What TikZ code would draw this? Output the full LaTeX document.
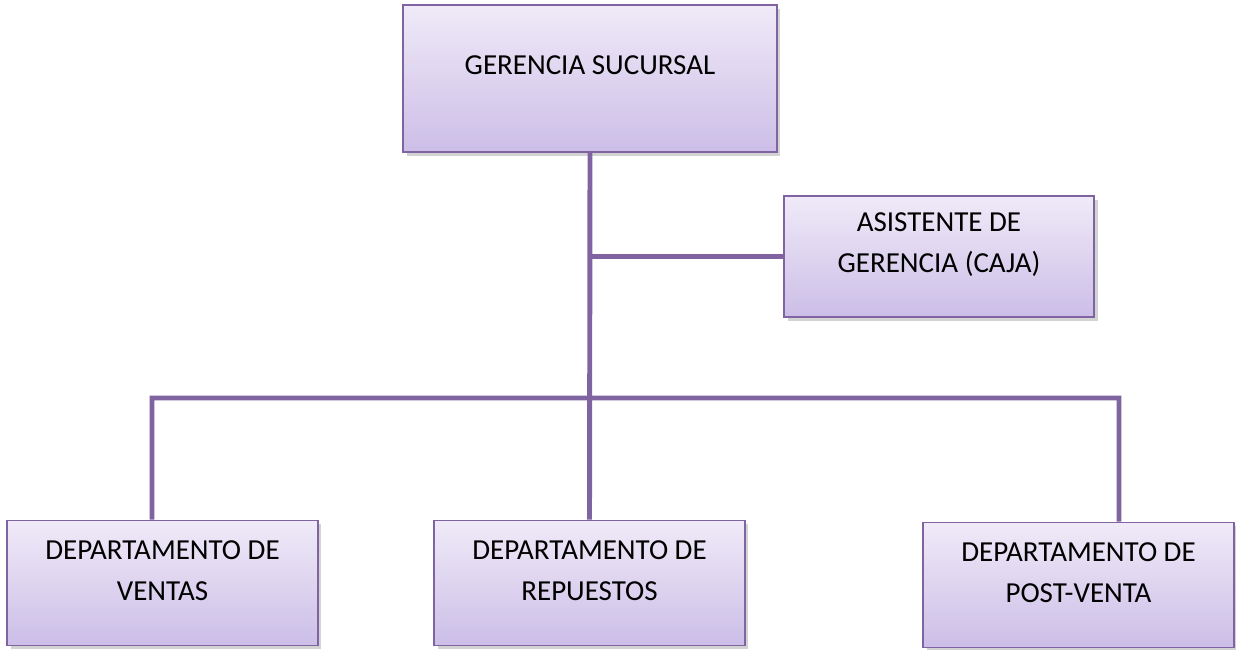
\documentclass[tikz,border=0pt]{standalone}
\usepackage{fontspec}
\setmainfont{Carlito}
\usetikzlibrary{positioning,shadows}

\definecolor{lila}{RGB}{128,100,162}
\definecolor{lilatop}{RGB}{240,234,248}
\definecolor{lilabot}{RGB}{204,190,231}

\begin{document}
\begin{tikzpicture} [x=0.02cm, y=-0.02cm,
                    unidad/.style={rectangle,draw=lila,line width=0.9pt,top color=lilatop,bottom color=lilabot,
                                   drop shadow={shadow xshift=2pt,shadow yshift=-2pt,opacity=0.35}},
                    texto/.style={align=center,font=\fontsize{16.5}{23.3}\selectfont},
                    linea/.style={draw=lila,line width=2.8pt}]

\useasboundingbox (0,0) rectangle (1236,649);

\node[unidad, minimum width=7.48cm, minimum height=2.94cm] (GS) at (590,78.5) {};
\node[unidad, minimum width=6.2cm, minimum height=2.42cm] (AG) at (939,256.5) {};
\node[unidad, minimum width=6.22cm, minimum height=2.5cm] (DV) at (162.5,583) {};
\node[unidad, minimum width=6.22cm, minimum height=2.5cm] (DR) at (589.5,583) {};
\node[unidad, minimum width=6.22cm, minimum height=2.5cm] (DP) at (1078.5,585) {};

\node[texto] (GSt) at ([yshift=7.5pt]GS.center) {GERENCIA SUCURSAL};
\node[texto] (AGt) at ([yshift=7pt]AG.center) {ASISTENTE DE\\GERENCIA (CAJA)};
\node[texto] (DVt) at ([yshift=7pt]DV.center) {DEPARTAMENTO DE\\VENTAS};
\node[texto] (DRt) at ([yshift=7pt]DR.center) {DEPARTAMENTO DE\\REPUESTOS};
\node[texto] (DPt) at ([yshift=7pt]DP.center) {DEPARTAMENTO DE\\POST-VENTA};

\coordinate (barraI) at (152,398);
\coordinate (barraD) at (1119,398);

% lineas del organigrama
\path[linea]
    (GS.south) -- (DR.north)
    (GS.south |- AG.west) -- (AG.west)
    (DV.north -| barraI) -- (barraI) -- (barraD) -- (DP.north -| barraD);
\end{tikzpicture}
\end{document}
